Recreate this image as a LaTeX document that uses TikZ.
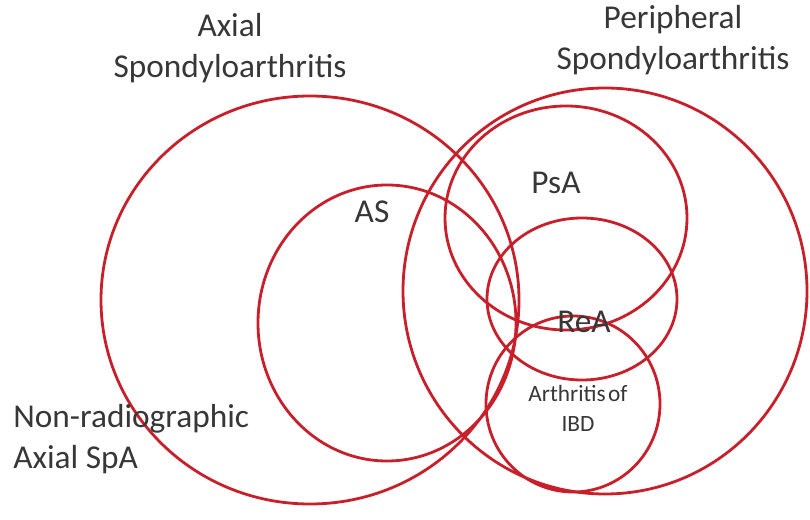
\documentclass[tikz,border=0pt]{standalone}
\usepackage{fontspec}
\setmainfont{Carlito}
\definecolor{ringred}{RGB}{200,32,42}
\definecolor{txtgray}{RGB}{55,55,55}
\begin{document}
\begin{tikzpicture}[x=0.75pt,y=-0.75pt,
  ring/.style={draw=ringred,line width=2.1pt},
  lbl/.style={text=txtgray,font=\fontsize{25}{31}\selectfont,inner sep=0pt,align=center},
  small/.style={text=txtgray,font=\fontsize{17.5}{22.5}\selectfont,inner sep=0pt,align=center}]
\useasboundingbox (0,0) rectangle (810,520);
% circles
\draw[ring] (310,300) ellipse [x radius=209, y radius=204];
\draw[ring] (387,323) ellipse [x radius=129, y radius=138];
\draw[ring] (605,291) ellipse [x radius=202, y radius=203];
\draw[ring] (566,218) ellipse [x radius=121, y radius=112];
\draw[ring] (582,299) ellipse [x radius=95, y radius=81];
\draw[ring] (573,404) ellipse [x radius=87, y radius=88];
% labels
\node[lbl] (axial) at (230,48) {Axial\\Spondyloarthritis};
\node[lbl] (periph) at (673,40) {Peripheral\\Spondyloarthritis};
\node[lbl] (psa) at (556,183) {PsA};
\node[lbl] (as) at (372,212) {AS};
\node[lbl] (rea) at (584,322) {ReA};
\node[small] (ibd) at (578,408) {Arthritis\hspace{0.1em}of\\IBD};
\node[lbl,align=left,anchor=west] (nonrad) at (13,439) {Non-radiographic\\Axial SpA};
\end{tikzpicture}
\end{document}
